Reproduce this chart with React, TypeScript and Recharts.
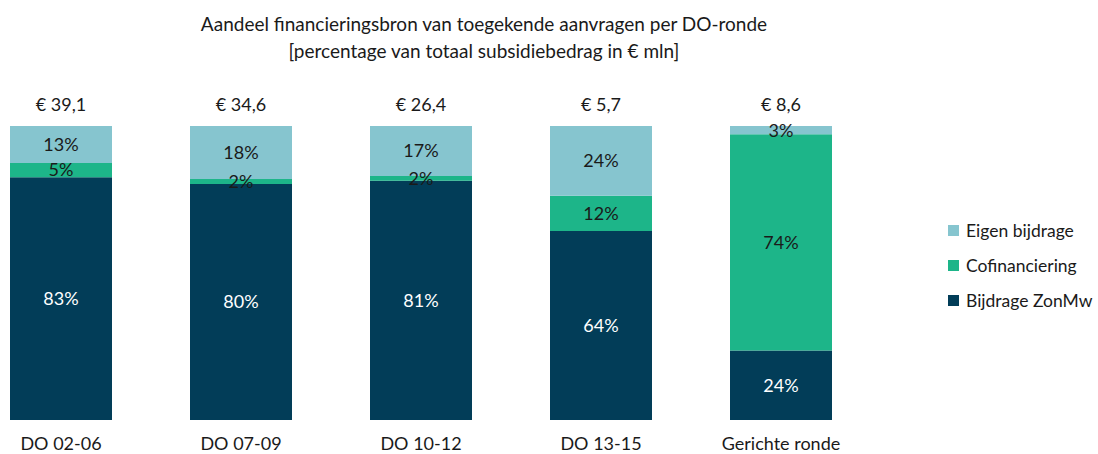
import React from 'react';
import { BarChart, Bar, XAxis, YAxis, LabelList } from 'recharts';

const categories = ['DO 02-06', 'DO 07-09', 'DO 10-12', 'DO 13-15', 'Gerichte ronde'];
const bijdrageZonMw = [82.6, 80.3, 81.4, 64.3, 23.6];
const cofinanciering = [4.8, 1.7, 1.6, 12.0, 73.6];
const eigenBijdrage = [12.6, 18.0, 17.0, 23.7, 2.8];
const totals = ['€ 39,1', '€ 34,6', '€ 26,4', '€ 5,7', '€ 8,6'];

const data = categories.map((c, i) => ({
  name: c,
  zonmw: bijdrageZonMw[i],
  cofin: cofinanciering[i],
  eigen: eigenBijdrage[i],
  total: totals[i],
}));

const FONT = 'Lato, "Noto Sans", sans-serif';
const C_LIGHT = '#86C5CF';
const C_GREEN = '#1DB589';
const C_DARK = '#023D58';
const TEXT = '#1a1a1a';

const legendItems = [
  { label: 'Eigen bijdrage', color: C_LIGHT },
  { label: 'Cofinanciering', color: C_GREEN },
  { label: 'Bijdrage ZonMw', color: C_DARK },
];

const pct = (v: any) => `${Math.round(Number(v))}%`;

const TotalLabel = (props: any) => {
  const { x, y, width, index } = props;
  return (
    <text
      x={Number(x) + Number(width) / 2}
      y={Number(y) - 15}
      textAnchor="middle"
      fontSize={18}
      fontFamily={FONT}
      fill={TEXT}
    >
      {totals[index]}
    </text>
  );
};

export default function App() {
  return (
    <div style={{ position: 'absolute', left: 0, top: 0, width: 1098, height: 454, overflow: 'hidden', background: '#fff' }}>
      <div
        style={{
          position: 'absolute',
          left: 0,
          width: 968,
          top: 10,
          textAlign: 'center',
          fontFamily: FONT,
          fontSize: 19,
          lineHeight: '27px',
          color: TEXT,
        }}
      >
        <div>Aandeel financieringsbron van toegekende aanvragen per DO-ronde</div>
        <div>[percentage van totaal subsidiebedrag in € mln]</div>
      </div>
      <div style={{ position: 'absolute', left: 948, top: 213, fontFamily: FONT, fontSize: 17.5, color: TEXT }}>
        {legendItems.map((it) => (
          <div key={it.label} style={{ display: 'flex', alignItems: 'center', height: 35, whiteSpace: 'nowrap' }}>
            <span style={{ width: 11, height: 11, background: it.color, display: 'inline-block', marginRight: 7, flexShrink: 0 }} />
            <span>{it.label}</span>
          </div>
        ))}
      </div>
      <div style={{ position: 'absolute', left: -29, top: 0 }}>
        <BarChart
          width={900}
          height={454}
          data={data}
          margin={{ top: 126, right: 0, bottom: 0, left: 0 }}
          barSize={102}
        >
          <XAxis
            dataKey="name"
            axisLine={false}
            tickLine={false}
            height={34}
            tickMargin={11}
            tick={{ fontSize: 18, fontFamily: FONT, fill: TEXT }}
            interval={0}
          />
          <YAxis hide domain={[0, 100]} />
          <Bar dataKey="zonmw" stackId="a" fill={C_DARK} isAnimationActive={false}>
            <LabelList dataKey="zonmw" position="center" formatter={pct} fill="#ffffff" fontSize={18} fontFamily={FONT} />
          </Bar>
          <Bar dataKey="cofin" stackId="a" fill={C_GREEN} isAnimationActive={false}>
            <LabelList dataKey="cofin" position="center" formatter={pct} fill={TEXT} fontSize={18} fontFamily={FONT} />
          </Bar>
          <Bar dataKey="eigen" stackId="a" fill={C_LIGHT} isAnimationActive={false}>
            <LabelList dataKey="eigen" position="center" formatter={pct} fill={TEXT} fontSize={18} fontFamily={FONT} />
            <LabelList dataKey="total" content={<TotalLabel />} />
          </Bar>
        </BarChart>
      </div>
    </div>
  );
}
